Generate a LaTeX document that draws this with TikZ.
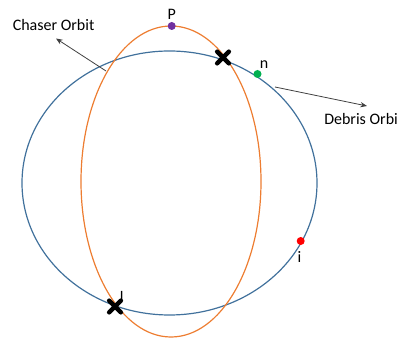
\documentclass[tikz,border=0pt]{standalone}
\usepackage{fontspec}
\setmainfont{Carlito}
\usetikzlibrary{shapes.misc,arrows.meta}

\definecolor{debrisblue}{HTML}{41719C}
\definecolor{chaserorange}{HTML}{ED7D31}
\definecolor{perigee}{HTML}{7030A0}
\definecolor{nodegreen}{HTML}{00B050}

\begin{document}
\begin{tikzpicture}[
  x=0.75pt, y=-0.75pt,
  orbit/.style={line width=0.9pt},
  dot/.style={circle, inner sep=0pt, minimum size=6pt},
  cross/.style={cross out, draw=black, line width=3.3pt, line cap=round, minimum size=5.5pt, inner sep=0pt},
  lbl/.style={font=\fontsize{12}{14}\selectfont, inner sep=0pt},
  arrow/.style={-{Stealth[length=5pt,width=4pt]}, line width=0.6pt, draw=black!75}
]
\useasboundingbox (0,0) rectangle (400,338);
% the two orbits
\draw[orbit, debrisblue] (169.5,183) ellipse [x radius=147.5, y radius=132];
\draw[orbit, chaserorange] (171,181.5) ellipse [x radius=90, y radius=155.5];

% points on the orbits
\node[dot, fill=perigee] (pDot) at (171.7,26) {};
\node[dot, fill=nodegreen] (nDot) at (257.5,74) {};
\node[dot, fill=red] (iDot) at (300.7,241) {};
\node[cross] (upCross) at (223,57.5) {};
\node[cross] (lCross) at (115,306.5) {};

\node[lbl] (pLbl) at (171.7,14) {P};
\node[lbl] (nLbl) at (264,65) {n};
\node[lbl] (iLbl) at (299.5,256.5) {i};
\node[lbl] (lLbl) at (121.7,296.5) {l};

% orbit names
\node[lbl, anchor=west] (chaser) at (12.5,25) {Chaser Orbit};
\node[lbl, anchor=west] (debris) at (324,119.5) {Debris Orbi};
\coordinate (chaserFoot) at (106,71);
\coordinate (chaserHead) at (56,38.5);
\coordinate (debrisFoot) at (275,87);
\coordinate (debrisHead) at (367,106);
\draw[arrow] (chaserFoot) -- (chaserHead);
\draw[arrow] (debrisFoot) -- (debrisHead);
\end{tikzpicture}
\end{document}
